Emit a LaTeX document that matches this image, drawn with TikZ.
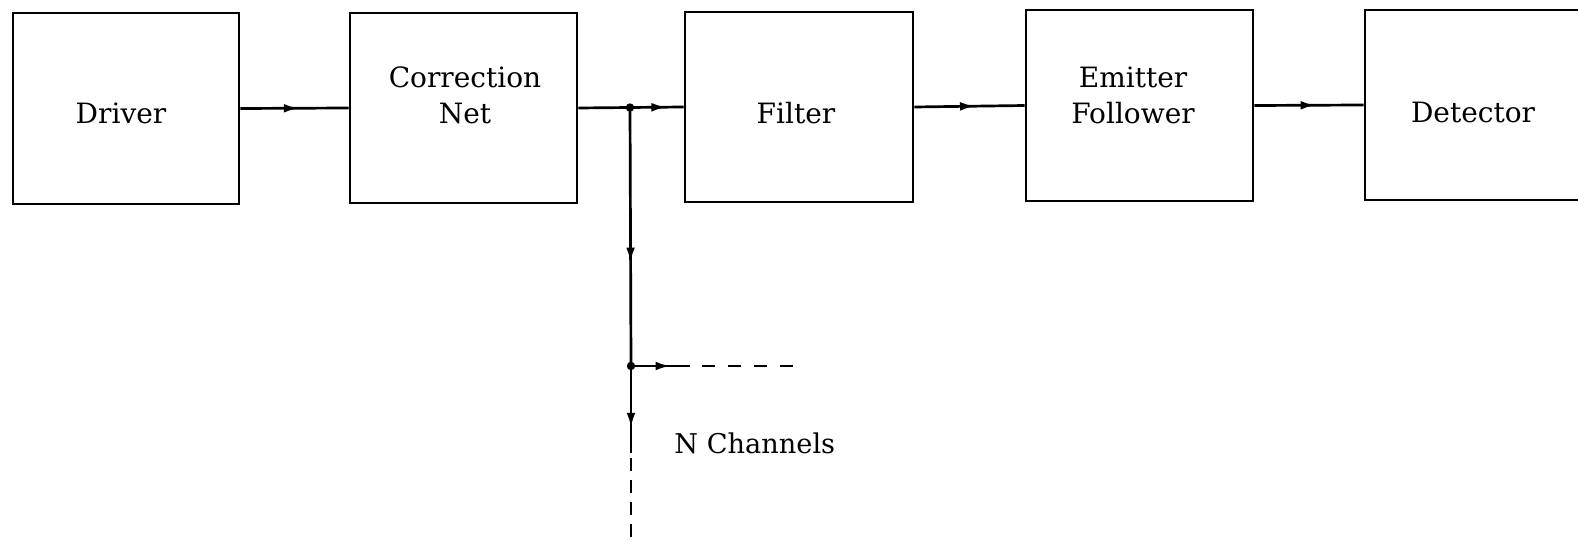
\documentclass[tikz,border=0pt]{standalone}
\usepackage{fontspec}
\setmainfont{DejaVu Serif}
\usetikzlibrary{arrows.meta,decorations.markings,calc}
\begin{document}
\begin{tikzpicture}[x=0.5pt,y=-0.5pt,
  blockbox/.style={draw,line width=1.45pt,inner sep=0pt},
  conn/.style={line width=1.35pt},
  arrowat/.style={postaction={decorate},decoration={markings,
    mark=at position #1 with {\arrow{Latex[length=7.5pt,width=4.4pt]}}}},
  dashedconn/.style={line width=1.25pt,dash pattern=on 6.5pt off 6.5pt},
  vdashedconn/.style={line width=1.25pt,dash pattern=on 6.5pt off 4.5pt},
  junction/.style={circle,fill,inner sep=0pt,minimum size=4.2pt},
  lbl/.style={font=\fontsize{14}{18}\selectfont,inner sep=0pt,align=center}]
\useasboundingbox (0,0) rectangle (1578,545);
\clip (0,0) rectangle (1578,545);

\node[blockbox,minimum width=113pt,minimum height=95.5pt] (drv) at (126,108.5) {};
\node[blockbox,minimum width=113.5pt,minimum height=95pt] (cor) at (463.5,108) {};
\node[blockbox,minimum width=114pt,minimum height=95pt] (fil) at (799,107) {};
\node[blockbox,minimum width=113.5pt,minimum height=95.5pt] (emi) at (1139.5,105.5) {};
\node[blockbox,minimum width=108.5pt,minimum height=95pt] (det) at (1473.5,105) {};

\node[lbl] (drvt) at (121,113) {Driver};
\node[lbl] (cort) at (465,95.5) {Correction\\Net};
\node[lbl] (filt) at (796,113) {Filter};
\node[lbl] (emit) at (1133,95.5) {Emitter\\Follower};
\node[lbl] (dett) at (1473,112.5) {Detector};

\coordinate (j1) at (630,107.5);
\coordinate (j2) at (631,366);
\coordinate (h1) at (690,366);
\coordinate (h2) at (702,366);
\coordinate (h3) at (793,366);
\coordinate (v1) at (631,453);
\coordinate (v2) at (631,458);
\coordinate (v3) at (631,548);

\draw[conn,arrowat=0.54] (drv.east) -- (cor.west);
\draw[conn] (cor.east) -- (j1);
\draw[conn,arrowat=0.68] (j1) -- (fil.west);
\draw[conn,arrowat=0.55] (fil.east) -- (emi.west);
\draw[conn,arrowat=0.56] (emi.east) -- (det.west);

\draw[conn,arrowat=0.6] (j1) -- (j2);
\draw[conn,arrowat=0.67] (j2) -- (h1);
\draw[dashedconn] (h2) -- (h3);
\draw[conn,arrowat=0.71] (j2) -- (v1);
\draw[vdashedconn] (v2) -- (v3);

\node[junction] (d1) at (j1) {};
\node[junction] (d2) at (j2) {};

\node[lbl,anchor=base west,font=\fontsize{13.6}{18}\selectfont] (nch) at (674,453) {N Channels};
\end{tikzpicture}
\end{document}
